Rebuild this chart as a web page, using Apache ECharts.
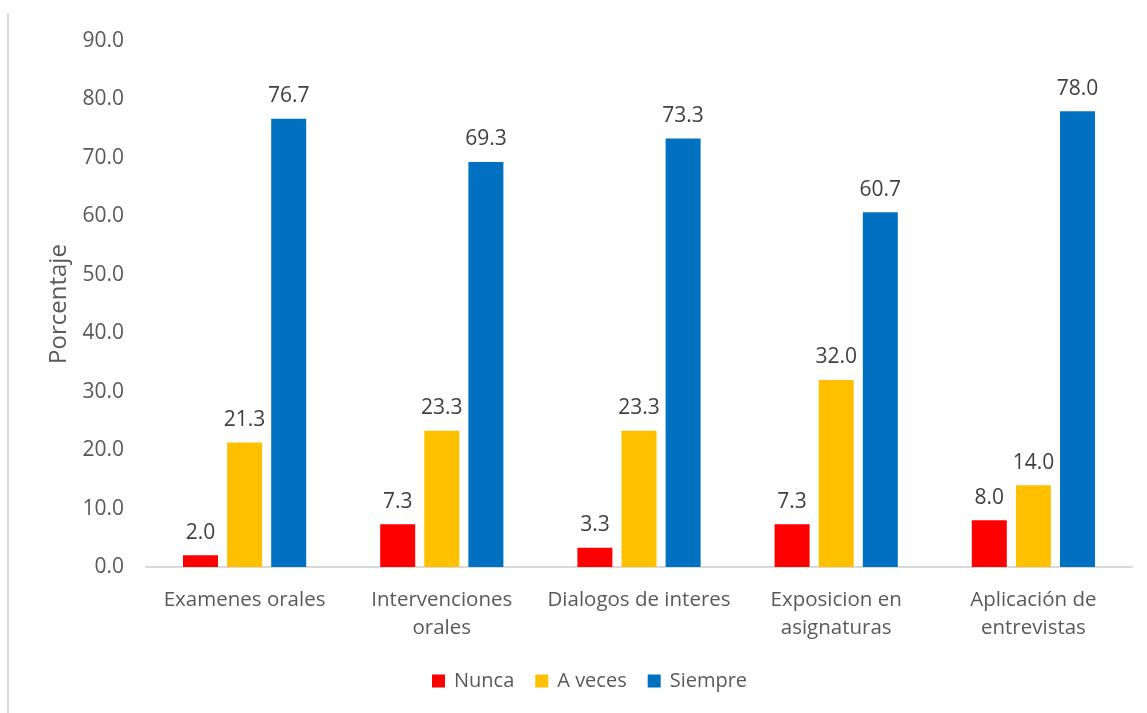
<!DOCTYPE html>
<html><head><meta charset="utf-8">
<script src="https://cdn.jsdelivr.net/npm/echarts@6/dist/echarts.min.js"></script>
<style>html,body{margin:0;padding:0;background:#fff}#c{width:1147px;height:713px}</style>
</head><body><div id="c"></div>
<script>
var categories = ['Examenes orales', 'Intervenciones\norales', 'Dialogos de interes', 'Exposicion en\nasignaturas', 'Aplicación de\nentrevistas'];
var nunca = [2.0, 7.3, 3.3, 7.3, 8.0];
var aveces = [21.3, 23.3, 23.3, 32.0, 14.0];
var siempre = [76.7, 69.3, 73.3, 60.7, 78.0];
var seriesNames = ['Nunca', 'A veces', 'Siempre'];
var colors = ['#FF0000', '#FFC000', '#0070C0'];
var FONT = 'Open Sans';
var chart = echarts.init(document.getElementById('c'));
function mk(name, data, color) {
  return {
    name: name, type: 'bar', data: data, barWidth: 35, barGap: '26%',
    itemStyle: { color: color },
    label: { show: true, position: 'top', distance: 12, color: '#404040', fontSize: 21, fontFamily: FONT,
      formatter: function (p) { return p.value.toFixed(1); } }
  };
}
chart.setOption({
  animation: false,
  color: colors,
  grid: { left: 146, right: 15, top: 41, bottom: 146, containLabel: false },
  legend: {
    bottom: 17, left: 427, itemWidth: 13, itemHeight: 13, itemGap: 21,
    icon: 'rect',
    textStyle: { color: '#595959', fontSize: 20, fontFamily: FONT, padding: [0, 0, 0, 4] },
    data: seriesNames
  },
  xAxis: {
    type: 'category', data: categories,
    axisLine: { lineStyle: { color: '#D9D9D9', width: 2 } },
    axisTick: { show: false },
    axisLabel: { color: '#595959', fontSize: 20.5, fontFamily: FONT, lineHeight: 28, margin: 19, interval: 0 }
  },
  yAxis: {
    type: 'value', min: 0, max: 90, interval: 10,
    name: 'Porcentaje', nameLocation: 'middle', nameGap: 70, nameRotate: 90,
    nameTextStyle: { color: '#595959', fontSize: 24, fontFamily: FONT },
    axisLine: { show: false }, axisTick: { show: false },
    splitLine: { show: false },
    axisLabel: { color: '#595959', fontSize: 21, fontFamily: FONT, margin: 22,
      formatter: function (v) { return v.toFixed(1); } }
  },
  graphic: [{ type: 'line', shape: { x1: 8, y1: 13, x2: 8, y2: 713 }, style: { stroke: '#D9D9D9', lineWidth: 2 } }],
  series: [mk(seriesNames[0], nunca, colors[0]), mk(seriesNames[1], aveces, colors[1]), mk(seriesNames[2], siempre, colors[2])]
});
</script></body></html>
